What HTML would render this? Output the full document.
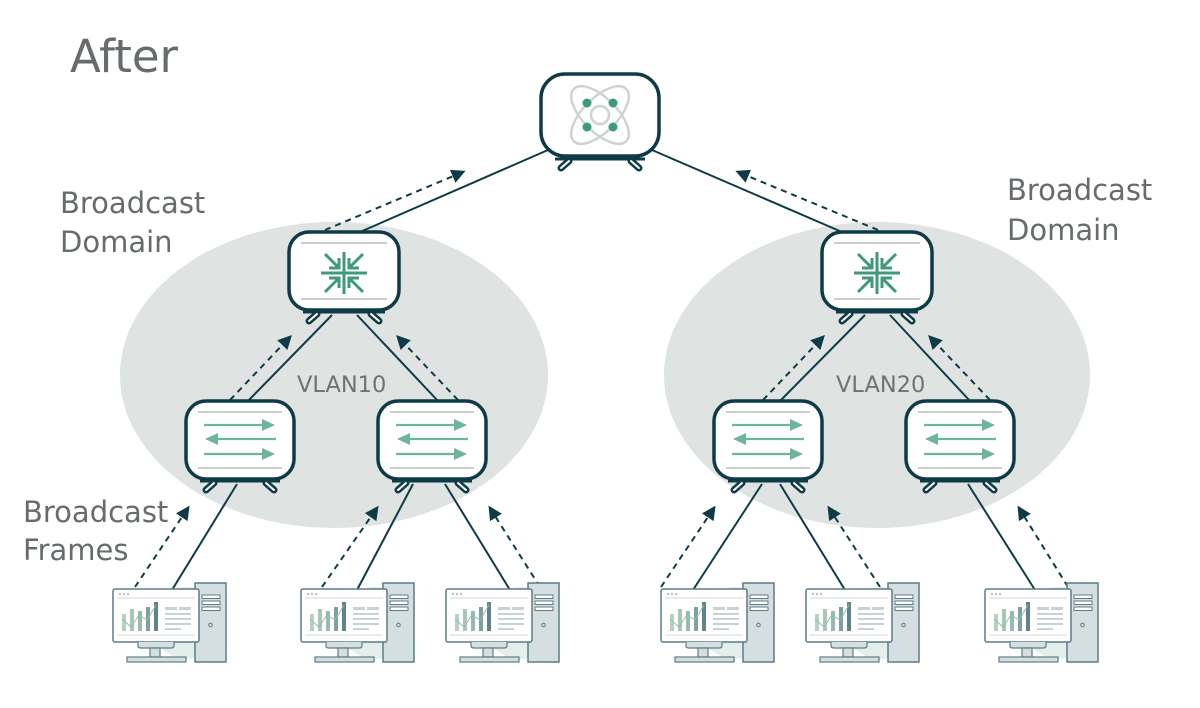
<!DOCTYPE html>
<html><head><meta charset="utf-8"><style>
html,body{margin:0;padding:0;background:#fff;}
svg{display:block;font-family:"DejaVu Sans","Liberation Sans",sans-serif;}
</style></head><body>
<svg width="1200" height="708" viewBox="0 0 1200 708" xmlns="http://www.w3.org/2000/svg">
<defs>
<marker id="ah" viewBox="0 0 10 10" refX="8" refY="5" markerWidth="7" markerHeight="7" orient="auto-start-reverse">
<path d="M0,0 L10,5 L0,10 z" fill="#0f3b47"/></marker>
<g id="sw">
 <rect x="0" y="0" width="108" height="78" rx="20" fill="#fff" stroke="#0f3b47" stroke-width="3.5"/>
 <line x1="12" y1="11" x2="96" y2="11" stroke="#c9cfcf" stroke-width="2"/>
 <line x1="12" y1="67" x2="96" y2="67" stroke="#c9cfcf" stroke-width="2"/>
 <g stroke="#6db59e" stroke-width="2.2" fill="#6db59e">
  <line x1="18" y1="24" x2="84" y2="24"/><path d="M76,18 L89,24 L76,30z" stroke="none"/>
  <line x1="24" y1="38" x2="90" y2="38"/><path d="M32,32 L19,38 L32,44z" stroke="none"/>
  <line x1="18" y1="53" x2="84" y2="53"/><path d="M76,47 L89,53 L76,59z" stroke="none"/>
 </g>
 <line x1="14" y1="80" x2="94" y2="80" stroke="#0f3b47" stroke-width="3"/>
 <line x1="28" y1="82" x2="20" y2="89" stroke="#0f3b47" stroke-width="7" stroke-linecap="round"/>
 <line x1="28" y1="82" x2="20" y2="89" stroke="#fff" stroke-width="2" stroke-linecap="round"/>
 <line x1="80" y1="82" x2="88" y2="89" stroke="#0f3b47" stroke-width="7" stroke-linecap="round"/>
 <line x1="80" y1="82" x2="88" y2="89" stroke="#fff" stroke-width="2" stroke-linecap="round"/>
</g>
<g id="core">
 <rect x="0" y="0" width="110" height="78" rx="20" fill="#fff" stroke="#0f3b47" stroke-width="3.5"/>
 <line x1="12" y1="11" x2="98" y2="11" stroke="#c9cfcf" stroke-width="2"/>
 <line x1="12" y1="67" x2="98" y2="67" stroke="#c9cfcf" stroke-width="2"/>
 <g stroke="#3f9a7c" stroke-width="3" fill="none">
  <path d="M36,22 L50,36 M50,26 L50,36 L40,36"/>
  <path d="M74,22 L60,36 M60,26 L60,36 L70,36"/>
  <path d="M36,60 L50,46 M50,56 L50,46 L40,46"/>
  <path d="M74,60 L60,46 M60,56 L60,46 L70,46"/>
  <line x1="55" y1="20" x2="55" y2="62"/>
  <line x1="32" y1="41" x2="78" y2="41"/>
 </g>
 <line x1="14" y1="80" x2="96" y2="80" stroke="#0f3b47" stroke-width="3"/>
 <line x1="28" y1="82" x2="20" y2="89" stroke="#0f3b47" stroke-width="7" stroke-linecap="round"/>
 <line x1="28" y1="82" x2="20" y2="89" stroke="#fff" stroke-width="2" stroke-linecap="round"/>
 <line x1="82" y1="82" x2="90" y2="89" stroke="#0f3b47" stroke-width="7" stroke-linecap="round"/>
 <line x1="82" y1="82" x2="90" y2="89" stroke="#fff" stroke-width="2" stroke-linecap="round"/>
</g>
<g id="pc">
 <circle cx="74" cy="34" r="36" fill="#e4efec"/>
 <rect x="82" y="-6" width="31" height="79" fill="#d5dfe1" stroke="#5d7c85" stroke-width="1.5"/>
 <rect x="89" y="6" width="18" height="3.5" fill="#fff" stroke="#5d7c85" stroke-width="1"/>
 <rect x="89" y="12" width="18" height="3.5" fill="#fff" stroke="#5d7c85" stroke-width="1"/>
 <rect x="89" y="18" width="18" height="3.5" fill="#fff" stroke="#5d7c85" stroke-width="1"/>
 <circle cx="97.5" cy="36" r="1.8" fill="none" stroke="#5d7c85" stroke-width="1"/>
 <rect x="0" y="0" width="86" height="53" rx="2" fill="#fff" stroke="#5d7c85" stroke-width="1.5"/>
 <circle cx="7" cy="5" r="1.2" fill="#b8c4c6"/><circle cx="11" cy="5" r="1.2" fill="#b8c4c6"/><circle cx="15" cy="5" r="1.2" fill="#b8c4c6"/>
 <line x1="4" y1="9" x2="82" y2="9" stroke="#d2d8d9" stroke-width="1"/>
 <line x1="4" y1="46" x2="82" y2="46" stroke="#d2d8d9" stroke-width="1"/>
 <rect x="9" y="25" width="4" height="17" fill="#b6d0c1"/>
 <rect x="17" y="20" width="4" height="22" fill="#a9c6b7"/>
 <rect x="25" y="22" width="4" height="20" fill="#9bb8b1"/>
 <rect x="33" y="18" width="4" height="24" fill="#7e9fa4"/>
 <rect x="41" y="13" width="4" height="29" fill="#61828b"/>
 <polyline points="9,30 18,38 26,26 34,31 43,16" fill="none" stroke="#8ac4a4" stroke-width="1"/>
 <rect x="52" y="18" width="12" height="3" fill="#c5d3d4"/><rect x="66" y="18" width="12" height="3" fill="#c5d3d4"/>
 <rect x="52" y="24" width="26" height="2" fill="#c5d3d4"/>
 <rect x="52" y="29" width="26" height="2" fill="#c5d3d4"/>
 <rect x="52" y="34" width="26" height="2" fill="#c5d3d4"/>
 <rect x="52" y="39" width="16" height="2" fill="#c5d3d4"/>
 <path d="M25,53 L25,57 Q25,59 28,59 L58,59 Q61,59 61,57 L61,53" fill="#d5dfe1" stroke="#5d7c85" stroke-width="1.2"/>
 <rect x="37" y="59" width="10" height="9" fill="#d5dfe1" stroke="#5d7c85" stroke-width="1.2"/>
 <rect x="14" y="68" width="59" height="5" fill="#d5dfe1" stroke="#5d7c85" stroke-width="1.2"/>
</g>
</defs>

<ellipse cx="334" cy="375" rx="214" ry="153" fill="#dfe3e2"/>
<ellipse cx="877" cy="375" rx="213" ry="153" fill="#dfe3e2"/>

<text x="70" y="72" font-size="45" fill="#666b6d">After</text>
<text x="60" y="213" font-size="29" fill="#666b6d">Broadcast</text>
<text x="60" y="252" font-size="29" fill="#666b6d">Domain</text>
<text x="1007" y="200" font-size="29" fill="#666b6d">Broadcast</text>
<text x="1007" y="240" font-size="29" fill="#666b6d">Domain</text>
<text x="23" y="522" font-size="29" fill="#666b6d">Broadcast</text>
<text x="23" y="560" font-size="29" fill="#666b6d">Frames</text>
<text x="297" y="392" font-size="22.5" fill="#6e7476">VLAN10</text>
<text x="836" y="392" font-size="22.5" fill="#6e7476">VLAN20</text>

<g stroke="#0f3b47" stroke-width="2" fill="none">
 <line x1="548" y1="150" x2="360" y2="232"/>
 <line x1="652" y1="150" x2="842" y2="232"/>
 <line x1="332" y1="315" x2="248" y2="401"/>
 <line x1="357" y1="315" x2="438" y2="401"/>
 <line x1="865" y1="315" x2="780" y2="401"/>
 <line x1="890" y1="315" x2="970" y2="401"/>
 <line x1="237" y1="484" x2="172" y2="590"/>
 <line x1="413" y1="484" x2="357" y2="590"/>
 <line x1="445" y1="484" x2="510" y2="590"/>
 <line x1="762" y1="484" x2="693" y2="590"/>
 <line x1="780" y1="484" x2="845" y2="590"/>
 <line x1="968" y1="484" x2="1035" y2="590"/>
 <g stroke-dasharray="6,5" marker-end="url(#ah)">
  <line x1="325" y1="230" x2="463" y2="172"/>
  <line x1="878" y1="230" x2="738" y2="172"/>
  <line x1="230" y1="400" x2="290" y2="337"/>
  <line x1="458" y1="400" x2="398" y2="337"/>
  <line x1="763" y1="400" x2="823" y2="337"/>
  <line x1="990" y1="400" x2="930" y2="337"/>
  <line x1="135" y1="587" x2="188" y2="508"/>
  <line x1="322" y1="587" x2="377" y2="508"/>
  <line x1="540" y1="587" x2="490" y2="508"/>
  <line x1="661" y1="587" x2="714" y2="508"/>
  <line x1="880" y1="587" x2="829" y2="508"/>
  <line x1="1068" y1="587" x2="1019" y2="508"/>
 </g>
</g>

<g transform="translate(541,74)">
 <rect x="0" y="0" width="118" height="82" rx="24" fill="#fff" stroke="#0f3b47" stroke-width="3.5"/>
 <g fill="none" stroke="#cdd3d2" stroke-width="2.5">
  <ellipse cx="59" cy="41" rx="37" ry="17" transform="rotate(45 59 41)"/>
  <ellipse cx="59" cy="41" rx="37" ry="17" transform="rotate(-45 59 41)"/>
  <circle cx="59" cy="41" r="9"/>
 </g>
 <g fill="#3f9a7c"><circle cx="46" cy="29" r="4.5"/><circle cx="72" cy="29" r="4.5"/><circle cx="46" cy="53" r="4.5"/><circle cx="72" cy="53" r="4.5"/></g>
 <line x1="14" y1="85" x2="104" y2="85" stroke="#0f3b47" stroke-width="3"/>
 <line x1="28" y1="87" x2="20" y2="94" stroke="#0f3b47" stroke-width="7" stroke-linecap="round"/>
 <line x1="28" y1="87" x2="20" y2="94" stroke="#fff" stroke-width="2" stroke-linecap="round"/>
 <line x1="90" y1="87" x2="98" y2="94" stroke="#0f3b47" stroke-width="7" stroke-linecap="round"/>
 <line x1="90" y1="87" x2="98" y2="94" stroke="#fff" stroke-width="2" stroke-linecap="round"/>
</g>

<use href="#core" x="289" y="232"/>
<use href="#core" x="822" y="232"/>
<use href="#sw" x="186" y="401"/>
<use href="#sw" x="378" y="401"/>
<use href="#sw" x="714" y="401"/>
<use href="#sw" x="906" y="401"/>

<use href="#pc" x="113" y="589"/>
<use href="#pc" x="301" y="589"/>
<use href="#pc" x="446" y="589"/>
<use href="#pc" x="661" y="589"/>
<use href="#pc" x="806" y="589"/>
<use href="#pc" x="985" y="589"/>
</svg>
</body></html>
